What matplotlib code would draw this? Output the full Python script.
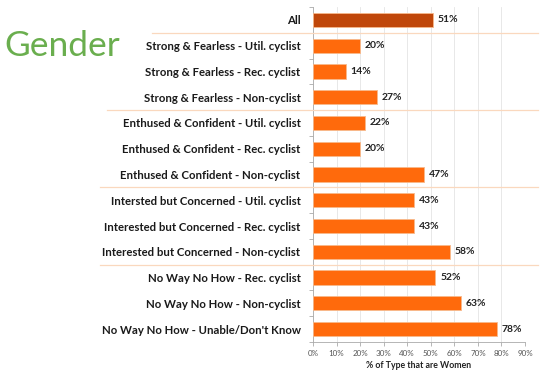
import matplotlib
matplotlib.use("Agg")
import matplotlib.pyplot as plt
import numpy as np

categories = [
    "All",
    "Strong & Fearless - Util. cyclist",
    "Strong & Fearless - Rec. cyclist",
    "Strong & Fearless - Non-cyclist",
    "Enthused & Confident - Util. cyclist",
    "Enthused & Confident - Rec. cyclist",
    "Enthused & Confident - Non-cyclist",
    "Intersted but Concerned - Util. cyclist",
    "Interested but Concerned - Rec. cyclist",
    "Interested but Concerned - Non-cyclist",
    "No Way No How - Rec. cyclist",
    "No Way No How - Non-cyclist",
    "No Way No How - Unable/Don't Know",
]
values = [51, 20, 14, 27, 22, 20, 47, 43, 43, 58, 52, 63, 78]
xticks = [0, 10, 20, 30, 40, 50, 60, 70, 80, 90]
group_breaks = [0.5, 3.5, 6.5, 9.5]
break_starts = [152, 107, 100, 100]

plt.rcParams['font.family'] = ['Lato', 'DejaVu Sans']

fig = plt.figure(figsize=(5.4, 3.76), dpi=100)
ax = fig.add_axes([313/540, 1-342/376, 212/540, (342-7)/376])

y = np.arange(len(categories))
colors = ['#C0470A'] + ['#FF6A0C'] * (len(categories) - 1)
ax.barh(y, values, height=0.55, color=colors, edgecolor='#F7B98C', linewidth=0.6, zorder=3)
for yi, v in zip(y, values):
    ax.text(v + 2, yi, f"{v}%", va='center', ha='left', fontsize=7.5, fontweight='bold', color='#222222')

ax.set_ylim(len(categories) - 0.5, -0.5)
ax.set_xlim(0, 90)
ax.set_xticks(xticks)
ax.set_xticklabels([f"{t}%" for t in xticks], fontsize=5.8, color='#555555')
ax.set_yticks(y)
ax.set_yticklabels(categories, fontsize=8.2, fontweight='bold', color='#1a1a1a')
ax.set_yticks(np.arange(len(categories) + 1) - 0.5, minor=True)
ax.tick_params(axis='y', which='major', length=0, pad=9)
ax.tick_params(axis='y', which='minor', length=3, color='#aaaaaa', width=0.6)
ax.tick_params(axis='x', length=3, color='#aaaaaa', width=0.6, pad=3)
ax.xaxis.grid(True, color='#e4e4e4', linewidth=0.6, zorder=0)
for s in ['top', 'right']:
    ax.spines[s].set_visible(False)
for s in ['left', 'bottom']:
    ax.spines[s].set_color('#aaaaaa')
    ax.spines[s].set_linewidth(0.6)
ax.set_xlabel("% of Type that are Women", fontsize=6.3, fontweight='bold', color='#222222', labelpad=3)

# group separators
inv = ax.transData
for gb, xs in zip(group_breaks, break_starts):
    ypix = inv.transform((0, gb))[1]
    yf = ypix / fig.bbox.height
    fig.add_artist(plt.Line2D([xs/540, 538/540], [yf, yf], color='#FAD8BE', linewidth=0.9, zorder=1))

fig.text(4/540, 1-46/376, "Gender", fontsize=25.5, color='#6AAE4E', va='center', ha='left')

fig.savefig("out.png", dpi=100)
